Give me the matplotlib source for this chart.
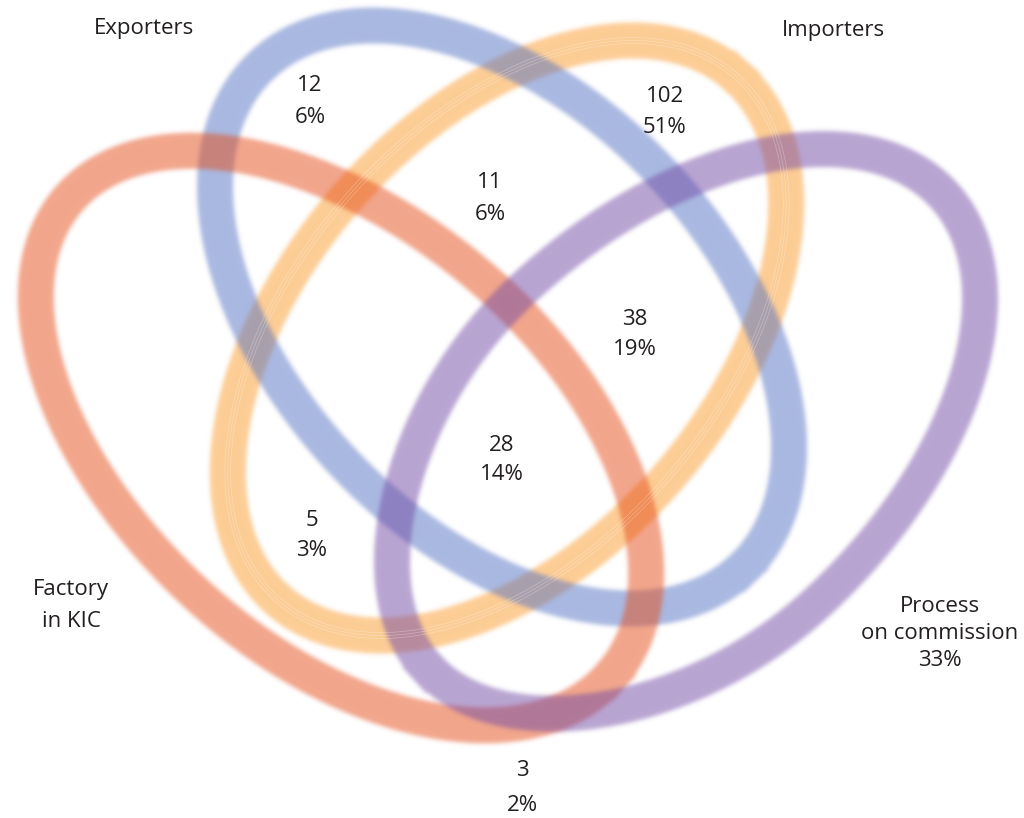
import numpy as np
import matplotlib
matplotlib.use("Agg")
import matplotlib.pyplot as plt

plt.rcParams["font.family"] = ["Open Sans", "DejaVu Sans"]

# Venn counts: number of firms and share of all firms in each labelled region
region_counts = [12, 11, 102, 38, 28, 5, 3]
region_pcts = [6, 6, 51, 19, 14, 3, 2]

set_names = ["Exporters", "Importers", "Factory\nin KIC", "Process\non commission"]
set_pcts = [None, None, None, 33]

# layout (figure pixels, y downwards) -------------------------------------
region_xy = [(310, 91), (490, 188), (665, 102), (635, 325),
             (502, 451), (312, 526), (522, 776)]
region_gap = [32, 32, 31, 30, 29, 30, 35]
set_xy = [(144, 34), (833, 36), (71, 595), (940, 612)]
set_gap = [0, 0, 32, 27]

# cx, cy, back half-length, front half-length, half-width, angle (deg),
# front taper, colour -- drawn in this order
rings = {
    "Importers": (507, 338, 348, 348, 213, -49.0, 0.0, "#fb9b2d"),
    "Exporters": (502, 317, 348, 348, 215, 46.0, 0.0, "#5573c3"),
    "Factory in KIC": (347, 443, 370, 352, 213, 41.4, 0.0, "#e54d19"),
    "Process on commission": (671, 445, 370, 330, 215, 137.5, 0.08, "#734ba5"),
}
RING_ALPHA = 0.5
RING_WIDTH_PX = 36
TEXT_COLOUR = "#231f20"


def _blur(a, sigma):
    r = max(1, int(3 * sigma))
    k = np.exp(-0.5 * (np.arange(-r, r + 1) / sigma) ** 2)
    k /= k.sum()
    h, w = a.shape
    p = np.pad(a, r)
    tmp = sum(k[i] * p[:, i:i + w] for i in range(2 * r + 1))
    return sum(k[i] * tmp[i:i + h, :] for i in range(2 * r + 1))


class SoftEdge:
    """agg filter: keeps the ring colour, softens only the alpha channel."""

    def __init__(self, colour, sigma=2.2):
        self.rgb = np.array(matplotlib.colors.to_rgb(colour))
        self.sigma = sigma

    def __call__(self, im, dpi):
        s = self.sigma * dpi / 100.0
        pad = int(3 * s) + 2
        a = np.pad(im[..., 3], pad)
        a = _blur(a, s)
        out = np.empty(a.shape + (4,))
        out[..., :3] = self.rgb
        out[..., 3] = np.clip(a, 0, 1)
        return out, -pad, -pad


def ring_path(cx, cy, a_back, a_front, b, ang, taper, n=720):
    t = np.linspace(0, 2 * np.pi, n)
    c, s = np.cos(t), np.sin(t)
    u = np.where(c > 0, a_front, a_back) * c
    v = b * s * (1 - taper * np.clip(c, 0, None) ** 2)
    th = np.deg2rad(ang)
    x = cx + u * np.cos(th) - v * np.sin(th)
    y = cy + u * np.sin(th) + v * np.cos(th)
    return x, y


W, H = 1024, 818
fig = plt.figure(figsize=(W / 100, H / 100), dpi=100)
ax = fig.add_axes([0, 0, 1, 1])
ax.set_xlim(0, W)
ax.set_ylim(H, 0)
ax.axis("off")

lw = RING_WIDTH_PX * 72 / fig.dpi
for i, (name, (cx, cy, ab, af, b, ang, taper, col)) in enumerate(rings.items()):
    x, y = ring_path(cx, cy, ab, af, b, ang, taper)
    ln, = ax.plot(x, y, color=col, lw=lw, alpha=RING_ALPHA,
                  solid_joinstyle="round", zorder=1 + i)
    ln.set_agg_filter(SoftEdge(col))

# faint hairlines running along the Importers ring
cx, cy, ab, af, b, ang, taper, col = rings["Importers"]
for d in (-3, 0, 3):
    x, y = ring_path(cx, cy, ab + d, af + d, b + d, ang, taper)
    ax.plot(x, y, color="white", lw=0.5, alpha=0.3, zorder=6)

fs = 16
for (x, y), gap, n, p in zip(region_xy, region_gap, region_counts, region_pcts):
    ax.text(x, y, str(n), ha="center", va="baseline", fontsize=fs,
            color=TEXT_COLOUR, zorder=10)
    ax.text(x, y + gap, f"{p}%", ha="center", va="baseline", fontsize=fs,
            color=TEXT_COLOUR, zorder=10)

for (x, y), gap, name, p in zip(set_xy, set_gap, set_names, set_pcts):
    lines = name.split("\n") + ([f"{p}%"] if p is not None else [])
    for k, line in enumerate(lines):
        ax.text(x, y + k * gap, line, ha="center", va="baseline",
                fontsize=fs, color=TEXT_COLOUR, zorder=10)

fig.savefig("out.png", dpi=100, facecolor="white")
